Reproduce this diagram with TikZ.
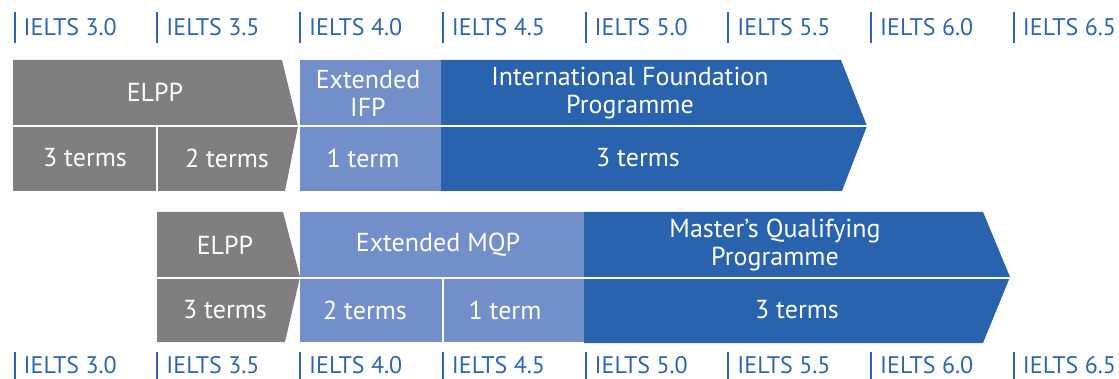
\documentclass[tikz,border=0pt]{standalone}
\usepackage{fontspec}
\setmainfont{PT Sans}
\usepackage{tikz}
\usetikzlibrary{calc,positioning}
\usepackage{xcolor}
\definecolor{elppgray}{HTML}{7F7F7F}
\definecolor{extblue}{HTML}{738FC9}
\definecolor{progblue}{HTML}{2A63AD}
\definecolor{tickblue}{HTML}{2F64AE}

\begin{document}
\begin{tikzpicture}[x=1pt, y=-1pt]
      \tikzset{
	  label/.style={text=white, align=center, inner sep=0pt, font=\fontsize{26}{28}\selectfont},
	  level/.style={text=tickblue, anchor=west, inner sep=0pt, font=\fontsize{24}{26}\selectfont},
	  tick/.style={draw=tickblue, line width=2pt},
	  split/.style={draw=white, line width=2pt},
      }
      \useasboundingbox (0,0) rectangle (1119,379);

      % IELTS scale, top and bottom
      \foreach \lvl [count=\i from 0] in {3.0,3.5,4.0,4.5,5.0,5.5,6.0,6.5} {
	\coordinate (t\i) at (14.5+142.75*\i, 12);
	\coordinate (b\i) at (14.5+142.75*\i, 352);
	\draw [tick] (t\i) -- ++(0,31);
	\draw [tick] (b\i) -- ++(0,27);
	\node (tl\i) [level] at ($(t\i)+(9,15)$) {IELTS \lvl};
	\node (bl\i) [level] at ($(b\i)+(9,13)$) {IELTS \lvl};
      }

      % foundation route
      \fill [elppgray] (13,60) -- (282,60) -- (298,126) -- (285,191) -- (13,191) -- cycle;
      \fill [extblue] (300,60) rectangle (441,191);
      \fill [progblue] (441,60) -- (841,60) -- (867,126) -- (842,191) -- (441,191) -- cycle;
      \draw [split] (13,126) -- (870,126);
      \draw [split] (157,126) -- (157,191);

      \node (elppa) [label] at (155,92) {ELPP};
      \node (extifp) [label] at (368,93) {Extended\\IFP};
      \node (ifp) [label] at (630,93) {International Foundation\\Programme};
      \node (elppa3) [label] at (85,158) {3 terms};
      \node (elppa2) [label] at (227,158) {2 terms};
      \node (extifp1) [label] at (363,158) {1 term};
      \node (ifp3) [label] at (638,158) {3 terms};

      % master's route
      \fill [elppgray] (157,212) -- (283,212) -- (300,277) -- (285,342) -- (157,342) -- cycle;
      \fill [extblue] (300,212) rectangle (584,342);
      \fill [progblue] (584,212) -- (983,212) -- (1010,277) -- (983,343) -- (584,343) -- cycle;
      \draw [split] (157,278) -- (1012,278);
      \draw [split] (443,278) -- (443,342);

      \node (elppb) [label] at (225,245) {ELPP};
      \node (extmqp) [label] at (438,245) {Extended MQP};
      \node (mqp) [label] at (775,245) {Master’s Qualifying\\Programme};
      \node (elppb3) [label] at (225,310) {3 terms};
      \node (extmqp2) [label] at (365,310) {2 terms};
      \node (extmqp1) [label] at (505,310) {1 term};
      \node (mqp3) [label] at (797,310) {3 terms};
    \end{tikzpicture}
\end{document}
